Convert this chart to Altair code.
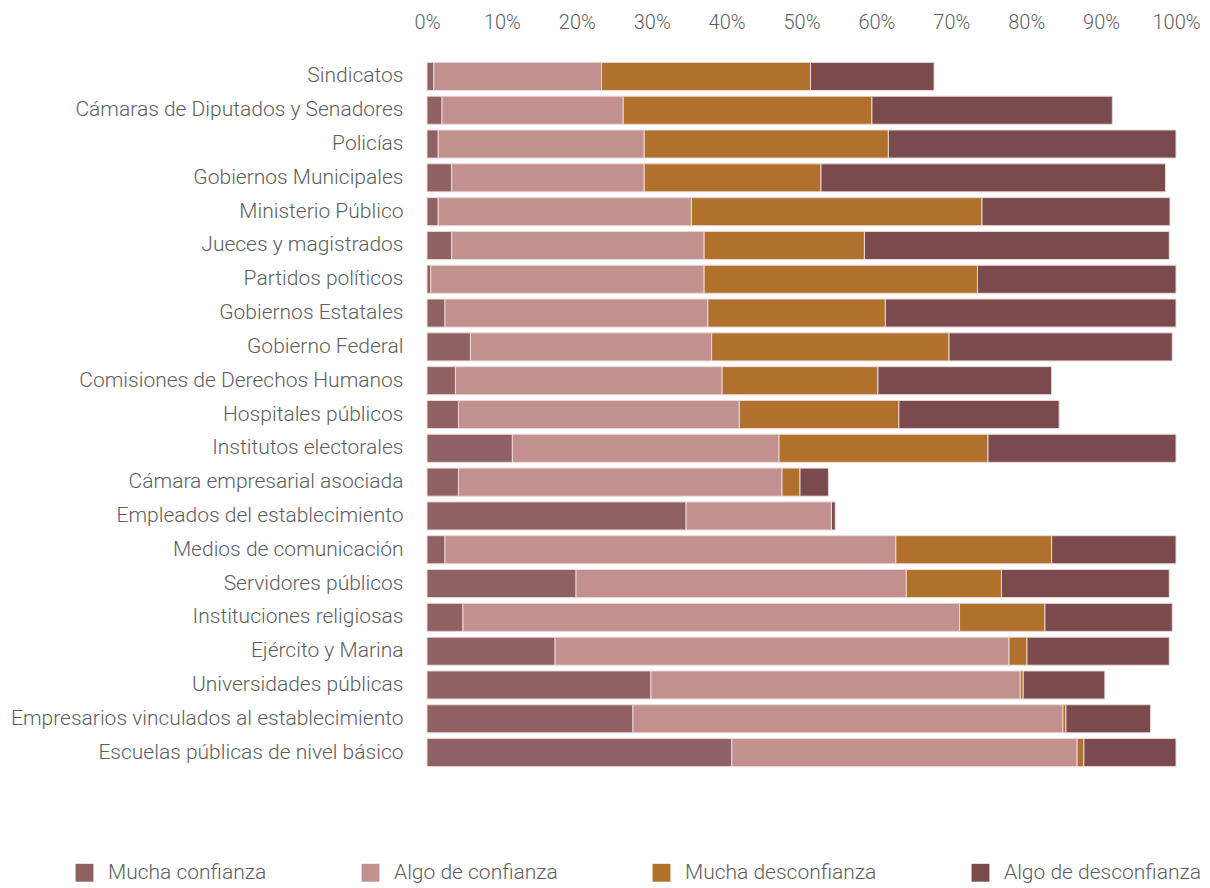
import altair as alt
import pandas as pd

institutions = [
    "Sindicatos",
    "Cámaras de Diputados y Senadores",
    "Policías",
    "Gobiernos Municipales",
    "Ministerio Público",
    "Jueces y magistrados",
    "Partidos políticos",
    "Gobiernos Estatales",
    "Gobierno Federal",
    "Comisiones de Derechos Humanos",
    "Hospitales públicos",
    "Institutos electorales",
    "Cámara empresarial asociada",
    "Empleados del establecimiento",
    "Medios de comunicación",
    "Servidores públicos",
    "Instituciones religiosas",
    "Ejército y Marina",
    "Universidades públicas",
    "Empresarios vinculados al establecimiento",
    "Escuelas públicas de nivel básico",
]

categories = ["Mucha confianza", "Algo de confianza", "Mucha desconfianza", "Algo de desconfianza"]
colors = ["#8f6163", "#c39090", "#b1712d", "#7a4a4d"]

mucha_confianza = [0.9, 2.0, 1.5, 3.3, 1.5, 3.3, 0.5, 2.4, 5.8, 3.8, 4.2, 11.4, 4.2, 34.6, 2.4, 19.9, 4.8, 17.1, 29.9, 27.5, 40.7]
algo_confianza = [22.4, 24.2, 27.5, 25.7, 33.8, 33.7, 36.5, 35.1, 32.2, 35.6, 37.5, 35.6, 43.2, 19.4, 60.2, 44.1, 66.3, 60.6, 49.3, 57.4, 46.1]
mucha_desconfianza = [27.9, 33.2, 32.6, 23.6, 38.8, 21.4, 36.5, 23.7, 31.7, 20.8, 21.3, 27.9, 2.4, 0.0, 20.8, 12.7, 11.4, 2.4, 0.4, 0.4, 0.9]
algo_desconfianza = [16.5, 32.1, 38.4, 46.0, 25.1, 40.7, 26.5, 38.8, 29.8, 23.2, 21.4, 25.1, 3.8, 0.5, 16.6, 22.4, 17.0, 19.0, 10.9, 11.3, 12.3]

series = [mucha_confianza, algo_confianza, mucha_desconfianza, algo_desconfianza]

rows = []
for ci, (cat, vals) in enumerate(zip(categories, series)):
    for inst, v in zip(institutions, vals):
        rows.append({"institucion": inst, "categoria": cat, "orden": ci, "valor": v / 100.0})
df = pd.DataFrame(rows)

FONT = "Roboto"
TEXT_COLOR = "#5e5e5e"

chart = (
    alt.Chart(df)
    .mark_bar(stroke="#ead8d8", strokeWidth=1)
    .encode(
        y=alt.Y(
            "institucion:N",
            sort=institutions,
            title=None,
            scale=alt.Scale(paddingInner=0.17, paddingOuter=0.1),
            axis=alt.Axis(
                ticks=False,
                domain=False,
                labelPadding=24,
                labelFontSize=21,
                labelFont=FONT,
                labelFontWeight=300,
                labelColor=TEXT_COLOR,
                labelLimit=600,
            ),
        ),
        x=alt.X(
            "valor:Q",
            stack="zero",
            title=None,
            scale=alt.Scale(domain=[0, 1], nice=False),
            axis=alt.Axis(
                orient="top",
                format=".0%",
                values=[i / 10 for i in range(11)],
                ticks=False,
                domain=False,
                grid=False,
                labelFlush=False,
                labelPadding=27,
                labelFontSize=20,
                labelFont=FONT,
                labelFontWeight=300,
                labelColor=TEXT_COLOR,
            ),
        ),
        color=alt.Color(
            "categoria:N",
            sort=categories,
            scale=alt.Scale(domain=categories, range=colors),
            legend=alt.Legend(
                title=None,
                orient="none",
                legendX=-353,
                legendY=803,
                direction="horizontal",
                columnPadding=93,
                symbolType="square",
                symbolSize=320,
                symbolStrokeWidth=0,
                labelFontSize=21,
                labelFont=FONT,
                labelFontWeight=300,
                labelColor=TEXT_COLOR,
                labelOffset=13,
                labelLimit=400,
            ),
        ),
        order=alt.Order("orden:Q", sort="ascending"),
    )
    .properties(width=749, height=711, padding={"left": 2, "top": 4, "right": 0, "bottom": 0})
    .configure(background="white")
    .configure_view(strokeWidth=0)
)

chart.save("out.html", embed_options={"renderer": "svg", "actions": False})
